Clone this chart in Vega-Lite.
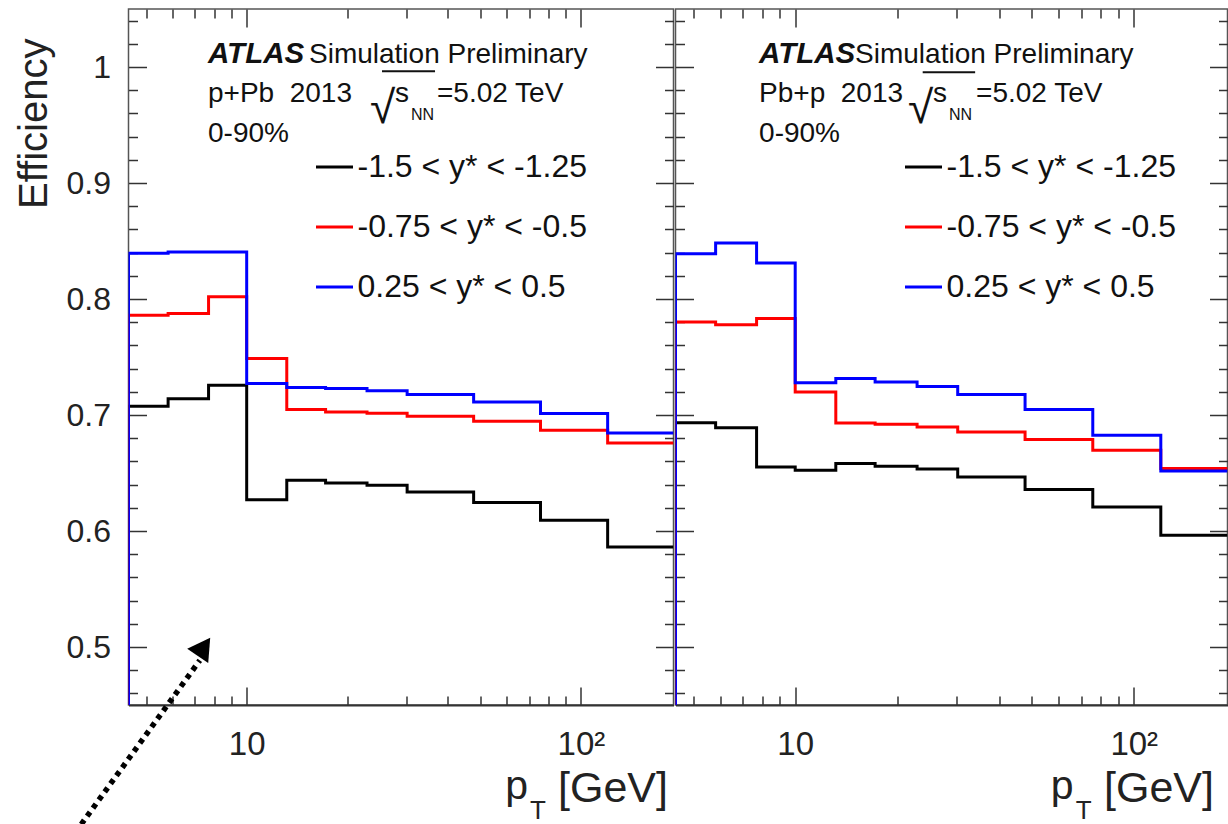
{
  "$schema": "https://vega.github.io/schema/vega-lite/v6.json",
  "background": "white",
  "padding": {"left": 13.5, "top": 3, "right": 0, "bottom": 0},
  "spacing": -6,
  "config": {
    "font": "Liberation Sans",
    "view": {"stroke": "#555555", "strokeWidth": 1.5},
    "axis": {"grid": false, "tickColor": "#333333", "tickWidth": 1.5, "labelColor": "#222222", "titleColor": "#222222", "titleFontWeight": "normal", "labelOverlap": false, "labelFlush": false, "labelBound": false},
    "legend": {"orient": "none", "title": null, "symbolType": "stroke", "symbolSize": 1369, "symbolStrokeWidth": 3, "labelFontSize": 32, "labelColor": "#111111", "labelOffset": 3, "rowPadding": 24, "padding": 0, "labelLimit": 0}
  },
  "datasets": {
    "eff": [
      {"panel": "p+Pb", "series": "-1.5 < y* < -1.25", "i": 0, "pt": 4.43, "eff": 0},
      {"panel": "p+Pb", "series": "-1.5 < y* < -1.25", "i": 1, "pt": 4.43, "eff": 0.7075},
      {"panel": "p+Pb", "series": "-1.5 < y* < -1.25", "i": 2, "pt": 5.82, "eff": 0.714},
      {"panel": "p+Pb", "series": "-1.5 < y* < -1.25", "i": 3, "pt": 7.69, "eff": 0.7256},
      {"panel": "p+Pb", "series": "-1.5 < y* < -1.25", "i": 4, "pt": 10, "eff": 0.627},
      {"panel": "p+Pb", "series": "-1.5 < y* < -1.25", "i": 5, "pt": 13.18, "eff": 0.6437},
      {"panel": "p+Pb", "series": "-1.5 < y* < -1.25", "i": 6, "pt": 17.22, "eff": 0.6414},
      {"panel": "p+Pb", "series": "-1.5 < y* < -1.25", "i": 7, "pt": 22.91, "eff": 0.6394},
      {"panel": "p+Pb", "series": "-1.5 < y* < -1.25", "i": 8, "pt": 30.2, "eff": 0.6336},
      {"panel": "p+Pb", "series": "-1.5 < y* < -1.25", "i": 9, "pt": 47.75, "eff": 0.6245},
      {"panel": "p+Pb", "series": "-1.5 < y* < -1.25", "i": 10, "pt": 75.68, "eff": 0.6092},
      {"panel": "p+Pb", "series": "-1.5 < y* < -1.25", "i": 11, "pt": 120.2, "eff": 0.5862},
      {"panel": "p+Pb", "series": "-1.5 < y* < -1.25", "i": 12, "pt": 189.2, "eff": 0.5862},
      {"panel": "p+Pb", "series": "-0.75 < y* < -0.5", "i": 0, "pt": 4.43, "eff": 0},
      {"panel": "p+Pb", "series": "-0.75 < y* < -0.5", "i": 1, "pt": 4.43, "eff": 0.786},
      {"panel": "p+Pb", "series": "-0.75 < y* < -0.5", "i": 2, "pt": 5.82, "eff": 0.7874},
      {"panel": "p+Pb", "series": "-0.75 < y* < -0.5", "i": 3, "pt": 7.69, "eff": 0.802},
      {"panel": "p+Pb", "series": "-0.75 < y* < -0.5", "i": 4, "pt": 10, "eff": 0.7486},
      {"panel": "p+Pb", "series": "-0.75 < y* < -0.5", "i": 5, "pt": 13.18, "eff": 0.7047},
      {"panel": "p+Pb", "series": "-0.75 < y* < -0.5", "i": 6, "pt": 17.22, "eff": 0.7026},
      {"panel": "p+Pb", "series": "-0.75 < y* < -0.5", "i": 7, "pt": 22.91, "eff": 0.7015},
      {"panel": "p+Pb", "series": "-0.75 < y* < -0.5", "i": 8, "pt": 30.2, "eff": 0.6989},
      {"panel": "p+Pb", "series": "-0.75 < y* < -0.5", "i": 9, "pt": 47.75, "eff": 0.6946},
      {"panel": "p+Pb", "series": "-0.75 < y* < -0.5", "i": 10, "pt": 75.68, "eff": 0.6868},
      {"panel": "p+Pb", "series": "-0.75 < y* < -0.5", "i": 11, "pt": 120.2, "eff": 0.6759},
      {"panel": "p+Pb", "series": "-0.75 < y* < -0.5", "i": 12, "pt": 189.2, "eff": 0.6759},
      {"panel": "p+Pb", "series": "0.25 < y* < 0.5", "i": 0, "pt": 4.43, "eff": 0},
      {"panel": "p+Pb", "series": "0.25 < y* < 0.5", "i": 1, "pt": 4.43, "eff": 0.8395},
      {"panel": "p+Pb", "series": "0.25 < y* < 0.5", "i": 2, "pt": 5.82, "eff": 0.8405},
      {"panel": "p+Pb", "series": "0.25 < y* < 0.5", "i": 3, "pt": 7.69, "eff": 0.8405},
      {"panel": "p+Pb", "series": "0.25 < y* < 0.5", "i": 4, "pt": 10, "eff": 0.7271},
      {"panel": "p+Pb", "series": "0.25 < y* < 0.5", "i": 5, "pt": 13.18, "eff": 0.7236},
      {"panel": "p+Pb", "series": "0.25 < y* < 0.5", "i": 6, "pt": 17.22, "eff": 0.7228},
      {"panel": "p+Pb", "series": "0.25 < y* < 0.5", "i": 7, "pt": 22.91, "eff": 0.721},
      {"panel": "p+Pb", "series": "0.25 < y* < 0.5", "i": 8, "pt": 30.2, "eff": 0.7176},
      {"panel": "p+Pb", "series": "0.25 < y* < 0.5", "i": 9, "pt": 47.75, "eff": 0.7112},
      {"panel": "p+Pb", "series": "0.25 < y* < 0.5", "i": 10, "pt": 75.68, "eff": 0.7012},
      {"panel": "p+Pb", "series": "0.25 < y* < 0.5", "i": 11, "pt": 120.2, "eff": 0.6845},
      {"panel": "p+Pb", "series": "0.25 < y* < 0.5", "i": 12, "pt": 189.2, "eff": 0.6845},
      {"panel": "Pb+p", "series": "-1.5 < y* < -1.25", "i": 0, "pt": 4.43, "eff": 0},
      {"panel": "Pb+p", "series": "-1.5 < y* < -1.25", "i": 1, "pt": 4.43, "eff": 0.6934},
      {"panel": "Pb+p", "series": "-1.5 < y* < -1.25", "i": 2, "pt": 5.82, "eff": 0.6891},
      {"panel": "Pb+p", "series": "-1.5 < y* < -1.25", "i": 3, "pt": 7.69, "eff": 0.6552},
      {"panel": "Pb+p", "series": "-1.5 < y* < -1.25", "i": 4, "pt": 10, "eff": 0.6523},
      {"panel": "Pb+p", "series": "-1.5 < y* < -1.25", "i": 5, "pt": 13.18, "eff": 0.6581},
      {"panel": "Pb+p", "series": "-1.5 < y* < -1.25", "i": 6, "pt": 17.22, "eff": 0.6558},
      {"panel": "Pb+p", "series": "-1.5 < y* < -1.25", "i": 7, "pt": 22.91, "eff": 0.6535},
      {"panel": "Pb+p", "series": "-1.5 < y* < -1.25", "i": 8, "pt": 30.2, "eff": 0.6466},
      {"panel": "Pb+p", "series": "-1.5 < y* < -1.25", "i": 9, "pt": 47.75, "eff": 0.6357},
      {"panel": "Pb+p", "series": "-1.5 < y* < -1.25", "i": 10, "pt": 75.68, "eff": 0.6207},
      {"panel": "Pb+p", "series": "-1.5 < y* < -1.25", "i": 11, "pt": 120.2, "eff": 0.5963},
      {"panel": "Pb+p", "series": "-1.5 < y* < -1.25", "i": 12, "pt": 189.2, "eff": 0.5963},
      {"panel": "Pb+p", "series": "-0.75 < y* < -0.5", "i": 0, "pt": 4.43, "eff": 0},
      {"panel": "Pb+p", "series": "-0.75 < y* < -0.5", "i": 1, "pt": 4.43, "eff": 0.7802},
      {"panel": "Pb+p", "series": "-0.75 < y* < -0.5", "i": 2, "pt": 5.82, "eff": 0.7779},
      {"panel": "Pb+p", "series": "-0.75 < y* < -0.5", "i": 3, "pt": 7.69, "eff": 0.7831},
      {"panel": "Pb+p", "series": "-0.75 < y* < -0.5", "i": 4, "pt": 10, "eff": 0.7198},
      {"panel": "Pb+p", "series": "-0.75 < y* < -0.5", "i": 5, "pt": 13.18, "eff": 0.6931},
      {"panel": "Pb+p", "series": "-0.75 < y* < -0.5", "i": 6, "pt": 17.22, "eff": 0.692},
      {"panel": "Pb+p", "series": "-0.75 < y* < -0.5", "i": 7, "pt": 22.91, "eff": 0.6897},
      {"panel": "Pb+p", "series": "-0.75 < y* < -0.5", "i": 8, "pt": 30.2, "eff": 0.6853},
      {"panel": "Pb+p", "series": "-0.75 < y* < -0.5", "i": 9, "pt": 47.75, "eff": 0.6788},
      {"panel": "Pb+p", "series": "-0.75 < y* < -0.5", "i": 10, "pt": 75.68, "eff": 0.6696},
      {"panel": "Pb+p", "series": "-0.75 < y* < -0.5", "i": 11, "pt": 120.2, "eff": 0.6538},
      {"panel": "Pb+p", "series": "-0.75 < y* < -0.5", "i": 12, "pt": 189.2, "eff": 0.6538},
      {"panel": "Pb+p", "series": "0.25 < y* < 0.5", "i": 0, "pt": 4.43, "eff": 0},
      {"panel": "Pb+p", "series": "0.25 < y* < 0.5", "i": 1, "pt": 4.43, "eff": 0.839},
      {"panel": "Pb+p", "series": "0.25 < y* < 0.5", "i": 2, "pt": 5.82, "eff": 0.8483},
      {"panel": "Pb+p", "series": "0.25 < y* < 0.5", "i": 3, "pt": 7.69, "eff": 0.831},
      {"panel": "Pb+p", "series": "0.25 < y* < 0.5", "i": 4, "pt": 10, "eff": 0.7279},
      {"panel": "Pb+p", "series": "0.25 < y* < 0.5", "i": 5, "pt": 13.18, "eff": 0.7314},
      {"panel": "Pb+p", "series": "0.25 < y* < 0.5", "i": 6, "pt": 17.22, "eff": 0.7285},
      {"panel": "Pb+p", "series": "0.25 < y* < 0.5", "i": 7, "pt": 22.91, "eff": 0.7245},
      {"panel": "Pb+p", "series": "0.25 < y* < 0.5", "i": 8, "pt": 30.2, "eff": 0.7176},
      {"panel": "Pb+p", "series": "0.25 < y* < 0.5", "i": 9, "pt": 47.75, "eff": 0.7047},
      {"panel": "Pb+p", "series": "0.25 < y* < 0.5", "i": 10, "pt": 75.68, "eff": 0.6825},
      {"panel": "Pb+p", "series": "0.25 < y* < 0.5", "i": 11, "pt": 120.2, "eff": 0.6517},
      {"panel": "Pb+p", "series": "0.25 < y* < 0.5", "i": 12, "pt": 189.2, "eff": 0.6517}
    ]
  },
  "hconcat": [
    {
      "width": 545,
      "height": 696,
      "resolve": {"axis": {"x": "independent", "y": "independent"}},
      "layer": [
        {
          "data": {"name": "eff"},
          "transform": [{"filter": "datum.panel == 'p+Pb'"}],
          "mark": {"type": "line", "interpolate": "step-after", "strokeWidth": 3, "clip": true},
          "encoding": {
            "x": {
              "field": "pt", "type": "quantitative",
              "scale": {"type": "log", "domain": [4.43, 189.2], "nice": false},
              "axis": {
                "orient": "bottom",
                "values": [5, 6, 7, 8, 9, 10, 20, 30, 40, 50, 60, 70, 80, 90, 100],
                "tickSize": {"condition": {"test": "datum.value == 10 || datum.value == 100", "value": -18}, "value": -9},
                "domain": true, "domainColor": "#333333", "domainWidth": 2,
                "labelExpr": "datum.value == 10 ? '10' : (datum.value == 100 ? '10²' : '')",
                "labelFontSize": 33, "labelPadding": 67, "labelBaseline": "alphabetic",
                "title": "[GeV]", "titleFontSize": 43, "titleX": 539, "titleY": 96, "titleAlign": "right", "titleBaseline": "alphabetic"
              }
            },
            "y": {
              "field": "eff", "type": "quantitative",
              "scale": {"domain": [0.45, 1.05], "nice": false, "zero": false},
              "axis": {
                "orient": "left",
                "values": [0.46, 0.48, 0.5, 0.52, 0.54, 0.56, 0.58, 0.6, 0.62, 0.64, 0.66, 0.68, 0.7, 0.72, 0.74, 0.76, 0.78, 0.8, 0.82, 0.84, 0.86, 0.88, 0.9, 0.92, 0.94, 0.96, 0.98, 1, 1.02, 1.04],
                "tickSize": {"condition": {"test": "abs(datum.value * 10 - round(datum.value * 10)) < 0.001", "value": -18}, "value": -9},
                "domain": false,
                "labelExpr": "abs(datum.value * 10 - round(datum.value * 10)) < 0.001 ? (datum.value == 1 ? '1' : format(datum.value, '.1f')) : ''",
                "labelFontSize": 32, "labelPadding": 36,
                "title": "Efficiency", "titleFontSize": 40, "titleX": -82, "titleY": 29, "titleAlign": "right", "titleAngle": 270, "titleBaseline": "alphabetic"
              }
            },
            "color": {
              "field": "series", "type": "nominal",
              "scale": {"domain": ["-1.5 < y* < -1.25", "-0.75 < y* < -0.5", "0.25 < y* < 0.5"], "range": ["#000000", "#ff0000", "#0000ff"]},
              "legend": {"legendX": 186, "legendY": 138}
            },
            "order": {"field": "i", "type": "quantitative"}
          }
        },
        {
          "data": {"values": [{"label": "0-90%"}]},
          "mark": {"type": "text", "align": "left", "baseline": "alphabetic", "fontSize": 28, "color": "#111111"},
          "encoding": {
            "x": {"datum": 7.66, "type": "quantitative", "axis": {"orient": "top", "values": [5, 6, 7, 8, 9, 10, 20, 30, 40, 50, 60, 70, 80, 90, 100], "tickSize": {"condition": {"test": "datum.value == 10 || datum.value == 100", "value": -18}, "value": -9}, "labels": false, "domain": false, "title": null}},
            "y": {"datum": 0.9351, "type": "quantitative", "axis": {"orient": "right", "values": [0.46, 0.48, 0.5, 0.52, 0.54, 0.56, 0.58, 0.6, 0.62, 0.64, 0.66, 0.68, 0.7, 0.72, 0.74, 0.76, 0.78, 0.8, 0.82, 0.84, 0.86, 0.88, 0.9, 0.92, 0.94, 0.96, 0.98, 1, 1.02, 1.04], "tickSize": {"condition": {"test": "abs(datum.value * 10 - round(datum.value * 10)) < 0.001", "value": -18}, "value": -9}, "labels": false, "domain": false, "title": null}},
            "text": {"field": "label"}
          }
        },
        {
          "data": {"values": [{"label": "ATLAS"}]},
          "mark": {"type": "text", "align": "left", "baseline": "alphabetic", "fontSize": 29.5, "fontWeight": "bold", "fontStyle": "italic", "color": "#111111"},
          "encoding": {"x": {"datum": 7.66, "type": "quantitative", "axis": null}, "y": {"datum": 1.0032, "type": "quantitative", "axis": null}, "text": {"field": "label"}}
        },
        {
          "data": {"values": [{"label": "Simulation Preliminary"}]},
          "mark": {"type": "text", "align": "left", "baseline": "alphabetic", "fontSize": 28, "dx": 101, "color": "#111111"},
          "encoding": {"x": {"datum": 7.66, "type": "quantitative", "axis": null}, "y": {"datum": 1.0032, "type": "quantitative", "axis": null}, "text": {"field": "label"}}
        },
        {
          "data": {"values": [{"label": "p+Pb\u00a0\u00a02013"}]},
          "mark": {"type": "text", "align": "left", "baseline": "alphabetic", "fontSize": 28, "color": "#111111"},
          "encoding": {"x": {"datum": 7.66, "type": "quantitative", "axis": null}, "y": {"datum": 0.9696, "type": "quantitative", "axis": null}, "text": {"field": "label"}}
        },
        {
          "data": {"values": [{"label": "√"}]},
          "mark": {"type": "text", "align": "left", "baseline": "alphabetic", "fontSize": 46, "dx": 162, "dy": 21, "color": "#111111"},
          "encoding": {"x": {"datum": 7.66, "type": "quantitative", "axis": null}, "y": {"datum": 0.9696, "type": "quantitative", "axis": null}, "text": {"field": "label"}}
        },
        {
          "data": {"values": [{"label": "s"}]},
          "mark": {"type": "text", "align": "left", "baseline": "alphabetic", "fontSize": 28, "dx": 187, "color": "#111111"},
          "encoding": {"x": {"datum": 7.66, "type": "quantitative", "axis": null}, "y": {"datum": 0.9696, "type": "quantitative", "axis": null}, "text": {"field": "label"}}
        },
        {
          "data": {"values": [{"label": "NN"}]},
          "mark": {"type": "text", "align": "left", "baseline": "alphabetic", "fontSize": 16, "dx": 203, "dy": 18, "color": "#111111"},
          "encoding": {"x": {"datum": 7.66, "type": "quantitative", "axis": null}, "y": {"datum": 0.9696, "type": "quantitative", "axis": null}, "text": {"field": "label"}}
        },
        {
          "data": {"values": [{"label": "=5.02 TeV"}]},
          "mark": {"type": "text", "align": "left", "baseline": "alphabetic", "fontSize": 28, "dx": 229, "color": "#111111"},
          "encoding": {"x": {"datum": 7.66, "type": "quantitative", "axis": null}, "y": {"datum": 0.9696, "type": "quantitative", "axis": null}, "text": {"field": "label"}}
        },
        {
          "data": {"values": [{"label": "overline"}]},
          "mark": {"type": "rule", "strokeWidth": 2, "color": "#111111"},
          "encoding": {"x": {"datum": 25.4, "type": "quantitative", "axis": null}, "x2": {"datum": 36.6}, "y": {"datum": 0.9963, "type": "quantitative", "axis": null}}
        },
        {
          "data": {"values": [{"label": "p"}]},
          "mark": {"type": "text", "align": "center", "baseline": "alphabetic", "fontSize": 41, "color": "#222222"},
          "encoding": {"x": {"datum": 64.2, "type": "quantitative", "axis": null}, "y": {"datum": 0.3687, "type": "quantitative", "axis": null}, "text": {"field": "label"}}
        },
        {
          "data": {"values": [{"label": "T"}]},
          "mark": {"type": "text", "align": "center", "baseline": "alphabetic", "fontSize": 26, "color": "#222222"},
          "encoding": {"x": {"datum": 74.4, "type": "quantitative", "axis": null}, "y": {"datum": 0.352, "type": "quantitative", "axis": null}, "text": {"field": "label"}}
        },
        {
          "data": {"values": [{"label": "arrow"}]},
          "mark": {"type": "rule", "strokeWidth": 5.5, "strokeDash": [5, 5], "color": "#000000"},
          "encoding": {"x": {"datum": 3.2, "type": "quantitative", "axis": null}, "y": {"datum": 0.3472, "type": "quantitative", "axis": null}, "x2": {"datum": 7.24}, "y2": {"datum": 0.4885}}
        },
        {
          "data": {"values": [{"label": "arrowhead"}]},
          "mark": {"type": "point", "shape": "triangle-up", "filled": true, "size": 650, "angle": 34.5, "color": "#000000", "opacity": 1},
          "encoding": {"x": {"datum": 7.45, "type": "quantitative", "axis": null}, "y": {"datum": 0.5002, "type": "quantitative", "axis": null}}
        }
      ]
    },
    {
      "width": 552,
      "height": 696,
      "resolve": {"axis": {"x": "independent", "y": "independent"}},
      "layer": [
        {
          "data": {"name": "eff"},
          "transform": [{"filter": "datum.panel == 'Pb+p'"}],
          "mark": {"type": "line", "interpolate": "step-after", "strokeWidth": 3, "clip": true},
          "encoding": {
            "x": {
              "field": "pt", "type": "quantitative",
              "scale": {"type": "log", "domain": [4.43, 189.2], "nice": false},
              "axis": {
                "orient": "bottom",
                "values": [5, 6, 7, 8, 9, 10, 20, 30, 40, 50, 60, 70, 80, 90, 100],
                "tickSize": {"condition": {"test": "datum.value == 10 || datum.value == 100", "value": -18}, "value": -9},
                "domain": true, "domainColor": "#333333", "domainWidth": 2,
                "labelExpr": "datum.value == 10 ? '10' : (datum.value == 100 ? '10²' : '')",
                "labelFontSize": 33, "labelPadding": 67, "labelBaseline": "alphabetic",
                "title": "[GeV]", "titleFontSize": 43, "titleX": 538, "titleY": 96, "titleAlign": "right", "titleBaseline": "alphabetic"
              }
            },
            "y": {
              "field": "eff", "type": "quantitative",
              "scale": {"domain": [0.45, 1.05], "nice": false, "zero": false},
              "axis": {
                "orient": "left",
                "values": [0.46, 0.48, 0.5, 0.52, 0.54, 0.56, 0.58, 0.6, 0.62, 0.64, 0.66, 0.68, 0.7, 0.72, 0.74, 0.76, 0.78, 0.8, 0.82, 0.84, 0.86, 0.88, 0.9, 0.92, 0.94, 0.96, 0.98, 1, 1.02, 1.04],
                "tickSize": {"condition": {"test": "abs(datum.value * 10 - round(datum.value * 10)) < 0.001", "value": -18}, "value": -9},
                "domain": false, "labels": false, "title": null
              }
            },
            "color": {
              "field": "series", "type": "nominal",
              "scale": {"domain": ["-1.5 < y* < -1.25", "-0.75 < y* < -0.5", "0.25 < y* < 0.5"], "range": ["#000000", "#ff0000", "#0000ff"]},
              "legend": {"legendX": 228, "legendY": 138}
            },
            "order": {"field": "i", "type": "quantitative"}
          }
        },
        {
          "data": {"values": [{"label": "0-90%"}]},
          "mark": {"type": "text", "align": "left", "baseline": "alphabetic", "fontSize": 28, "color": "#111111"},
          "encoding": {
            "x": {"datum": 7.82, "type": "quantitative", "axis": {"orient": "top", "values": [5, 6, 7, 8, 9, 10, 20, 30, 40, 50, 60, 70, 80, 90, 100], "tickSize": {"condition": {"test": "datum.value == 10 || datum.value == 100", "value": -18}, "value": -9}, "labels": false, "domain": false, "title": null}},
            "y": {"datum": 0.9351, "type": "quantitative", "axis": {"orient": "right", "values": [0.46, 0.48, 0.5, 0.52, 0.54, 0.56, 0.58, 0.6, 0.62, 0.64, 0.66, 0.68, 0.7, 0.72, 0.74, 0.76, 0.78, 0.8, 0.82, 0.84, 0.86, 0.88, 0.9, 0.92, 0.94, 0.96, 0.98, 1, 1.02, 1.04], "tickSize": {"condition": {"test": "abs(datum.value * 10 - round(datum.value * 10)) < 0.001", "value": -18}, "value": -9}, "labels": false, "domain": false, "title": null}},
            "text": {"field": "label"}
          }
        },
        {
          "data": {"values": [{"label": "ATLAS"}]},
          "mark": {"type": "text", "align": "left", "baseline": "alphabetic", "fontSize": 29.5, "fontWeight": "bold", "fontStyle": "italic", "color": "#111111"},
          "encoding": {"x": {"datum": 7.82, "type": "quantitative", "axis": null}, "y": {"datum": 1.0032, "type": "quantitative", "axis": null}, "text": {"field": "label"}}
        },
        {
          "data": {"values": [{"label": "Simulation Preliminary"}]},
          "mark": {"type": "text", "align": "left", "baseline": "alphabetic", "fontSize": 28, "dx": 96, "color": "#111111"},
          "encoding": {"x": {"datum": 7.82, "type": "quantitative", "axis": null}, "y": {"datum": 1.0032, "type": "quantitative", "axis": null}, "text": {"field": "label"}}
        },
        {
          "data": {"values": [{"label": "Pb+p\u00a0\u00a02013"}]},
          "mark": {"type": "text", "align": "left", "baseline": "alphabetic", "fontSize": 28, "color": "#111111"},
          "encoding": {"x": {"datum": 7.82, "type": "quantitative", "axis": null}, "y": {"datum": 0.9696, "type": "quantitative", "axis": null}, "text": {"field": "label"}}
        },
        {
          "data": {"values": [{"label": "√"}]},
          "mark": {"type": "text", "align": "left", "baseline": "alphabetic", "fontSize": 46, "dx": 149, "dy": 21, "color": "#111111"},
          "encoding": {"x": {"datum": 7.82, "type": "quantitative", "axis": null}, "y": {"datum": 0.9696, "type": "quantitative", "axis": null}, "text": {"field": "label"}}
        },
        {
          "data": {"values": [{"label": "s"}]},
          "mark": {"type": "text", "align": "left", "baseline": "alphabetic", "fontSize": 28, "dx": 174, "color": "#111111"},
          "encoding": {"x": {"datum": 7.82, "type": "quantitative", "axis": null}, "y": {"datum": 0.9696, "type": "quantitative", "axis": null}, "text": {"field": "label"}}
        },
        {
          "data": {"values": [{"label": "NN"}]},
          "mark": {"type": "text", "align": "left", "baseline": "alphabetic", "fontSize": 16, "dx": 190, "dy": 18, "color": "#111111"},
          "encoding": {"x": {"datum": 7.82, "type": "quantitative", "axis": null}, "y": {"datum": 0.9696, "type": "quantitative", "axis": null}, "text": {"field": "label"}}
        },
        {
          "data": {"values": [{"label": "=5.02 TeV"}]},
          "mark": {"type": "text", "align": "left", "baseline": "alphabetic", "fontSize": 28, "dx": 217, "color": "#111111"},
          "encoding": {"x": {"datum": 7.82, "type": "quantitative", "axis": null}, "y": {"datum": 0.9696, "type": "quantitative", "axis": null}, "text": {"field": "label"}}
        },
        {
          "data": {"values": [{"label": "overline"}]},
          "mark": {"type": "rule", "strokeWidth": 2, "color": "#111111"},
          "encoding": {"x": {"datum": 23.8, "type": "quantitative", "axis": null}, "x2": {"datum": 34.0}, "y": {"datum": 0.9954, "type": "quantitative", "axis": null}}
        },
        {
          "data": {"values": [{"label": "p"}]},
          "mark": {"type": "text", "align": "center", "baseline": "alphabetic", "fontSize": 41, "color": "#222222"},
          "encoding": {"x": {"datum": 61.5, "type": "quantitative", "axis": null}, "y": {"datum": 0.3687, "type": "quantitative", "axis": null}, "text": {"field": "label"}}
        },
        {
          "data": {"values": [{"label": "T"}]},
          "mark": {"type": "text", "align": "center", "baseline": "alphabetic", "fontSize": 26, "color": "#222222"},
          "encoding": {"x": {"datum": 71.2, "type": "quantitative", "axis": null}, "y": {"datum": 0.352, "type": "quantitative", "axis": null}, "text": {"field": "label"}}
        }
      ]
    }
  ],
  "resolve": {
    "scale": {"x": "independent", "y": "independent", "color": "independent"},
    "axis": {"x": "independent", "y": "independent"},
    "legend": {"color": "independent"}
  }
}
